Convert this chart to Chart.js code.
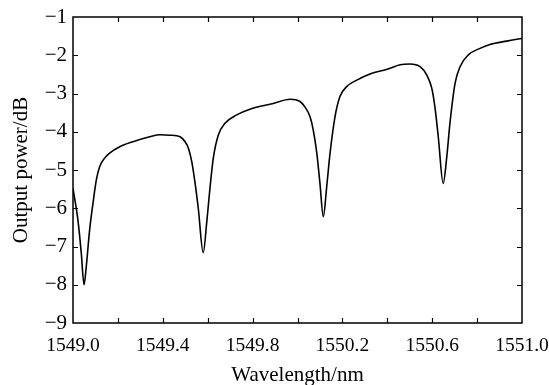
<!DOCTYPE html>
<html>
<head>
<meta charset="utf-8">
<script src="https://cdn.jsdelivr.net/npm/chart.js@4/dist/chart.umd.min.js"></script>
<style>
html,body{margin:0;padding:0;background:#fff;}
#wrap{width:549px;height:385px;}
</style>
</head>
<body>
<div id="wrap"><canvas id="mycanvas" width="549" height="385"></canvas></div>
<script>
// wavelength (nm) and output power (dB)
var wavelength=[1549.000,1549.022,1549.037,1549.049,1549.059,1549.074,1549.089,1549.104,1549.119,1549.141,
	1549.163,1549.208,1549.267,1549.342,1549.388,1549.432,1549.477,1549.499,1549.514,1549.529,
	1549.543,1549.558,1549.580,1549.596,1549.610,1549.625,1549.647,1549.677,1549.729,1549.788,
	1549.892,1549.967,1550.011,1550.033,1550.056,1550.070,1550.086,1550.100,1550.115,1550.130,
	1550.145,1550.167,1550.189,1550.219,1550.264,1550.323,1550.403,1550.457,1550.501,1550.546,
	1550.576,1550.598,1550.612,1550.627,1550.649,1550.665,1550.679,1550.702,1550.724,1550.761,
	1550.813,1550.857,1550.932,1551.000];
var power=[-5.48,-6.31,-7.18,-8.00,-7.53,-6.57,-5.87,-5.26,-4.91,-4.69,
	-4.56,-4.39,-4.26,-4.13,-4.08,-4.09,-4.13,-4.26,-4.43,-4.78,
	-5.31,-6.00,-7.16,-6.35,-5.48,-4.69,-4.09,-3.78,-3.56,-3.41,
	-3.26,-3.15,-3.21,-3.35,-3.61,-3.95,-4.56,-5.35,-6.22,-5.44,
	-4.56,-3.61,-3.08,-2.82,-2.65,-2.49,-2.36,-2.25,-2.23,-2.30,
	-2.52,-2.86,-3.35,-4.13,-5.35,-4.65,-3.78,-2.73,-2.30,-1.99,
	-1.82,-1.72,-1.63,-1.56];
var xMin=1549.0, xMax=1551.0, xMinor=0.2, xMajor=0.4;
var yMin=-9, yMax=-1;

var points=[];
for (var i=0;i<wavelength.length;i++){
	points.push({x:wavelength[i],y:power[i]});
}

function minus(v){ return (v<0?'\u2212':'')+Math.abs(v); }

// inward tick marks on all four sides of the box
var boxTicks={
	id:'boxTicks',
	afterDraw:function(chart){
		var c=chart.ctx, a=chart.chartArea, xs=chart.scales.x, ys=chart.scales.y, L=5;
		c.save();
		c.strokeStyle='#000';
		c.lineWidth=1.2;
		c.beginPath();
		var n=Math.round((xMax-xMin)/xMinor);
		for (var i=1;i<n;i++){
			var px=Math.round(xs.getPixelForValue(xMin+i*xMinor))+0.5;
			c.moveTo(px,a.bottom); c.lineTo(px,a.bottom-L);
			c.moveTo(px,a.top); c.lineTo(px,a.top+L);
		}
		for (var v=yMin+1;v<yMax;v++){
			var py=Math.round(ys.getPixelForValue(v))+0.5;
			c.moveTo(a.left,py); c.lineTo(a.left+L,py);
			c.moveTo(a.right,py); c.lineTo(a.right-L,py);
		}
		c.stroke();
		c.lineWidth=1.5;
		c.strokeRect(a.left,a.top,a.right-a.left,a.bottom-a.top);
		c.restore();
	}
};

var family='"Liberation Serif","Times New Roman",serif';
var font={family:family,size:21};
var tickFont={family:family,size:19.5};

var chart=new Chart(document.getElementById('mycanvas'),{
	type:'line',
	data:{
		datasets:[{
			data:points,
			borderColor:'#000',
			borderWidth:1.6,
			pointRadius:0,
			fill:false,
			cubicInterpolationMode:'monotone'
		}]
	},
	options:{
		responsive:false,
		animation:false,
		layout:{padding:{top:17,right:27,left:0,bottom:0}},
		plugins:{legend:{display:false},tooltip:{enabled:false}},
		scales:{
			x:{
				type:'linear',
				min:xMin,max:xMax,
				grid:{display:false,drawTicks:false},
				border:{display:false},
				ticks:{stepSize:xMajor,color:'#000',font:tickFont,padding:11,maxRotation:0,
					callback:function(v){ return v.toFixed(1); }},
				title:{display:true,text:'Wavelength/nm',color:'#000',font:font,padding:{top:0,bottom:-3}},
				afterFit:function(s){ s.height=62; s.paddingLeft=0; s.paddingRight=0; }
			},
			y:{
				min:yMin,max:yMax,
				grid:{display:false,drawTicks:false},
				border:{display:false},
				ticks:{stepSize:1,color:'#000',font:{family:family,size:21},padding:6,callback:minus},
				title:{display:true,text:'Output power/dB',color:'#000',font:font,padding:{top:9,bottom:0}},
				afterFit:function(s){ s.width=73; s.paddingTop=0; s.paddingBottom=0; }
			}
		}
	},
	plugins:[boxTicks]
});
</script>
</body>
</html>
